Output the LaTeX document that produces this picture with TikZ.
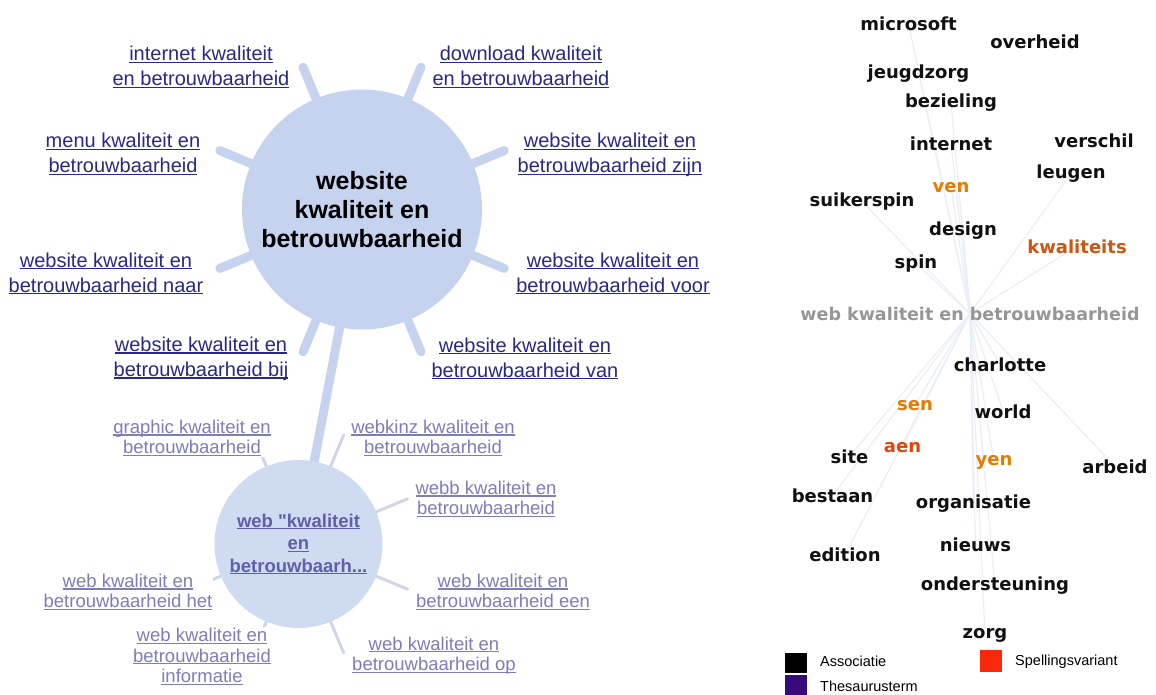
\documentclass[tikz,border=0pt]{standalone}
\usepackage{fontspec}
\setmainfont{Liberation Sans}
\newfontfamily\cloudfont{DejaVu Sans}
\usetikzlibrary{backgrounds}

\definecolor{hubfill}{RGB}{198,211,238}
\definecolor{subfill}{RGB}{207,219,240}
\definecolor{thinspoke}{RGB}{208,214,228}
\definecolor{lkA}{RGB}{40,40,135}
\definecolor{lkB}{RGB}{125,125,185}
\definecolor{lkC}{RGB}{95,95,170}
\definecolor{wordblack}{RGB}{17,17,17}
\definecolor{wordorange}{RGB}{232,122,0}
\definecolor{wordred}{RGB}{222,72,10}
\definecolor{wordrust}{RGB}{205,85,20}
\definecolor{phrasegrey}{RGB}{150,150,150}
\definecolor{cloudline}{RGB}{234,238,246}
\definecolor{legpurple}{RGB}{55,10,120}
\definecolor{legred}{RGB}{250,40,10}

% underlined link text: rule sits just below the baseline
\newcommand\lk[1]{\setbox0\hbox{#1}\rlap{\rule[-2.4pt]{\wd0}{1.3pt}}\box0}
% straight double quote, set as a glyph so the TeX quote mapping leaves it alone
\newcommand\straightdq{\XeTeXglyph\XeTeXcharglyph"22\relax}

\begin{document}
\begin{tikzpicture}[x=1pt,y=-1pt,
  hubnode/.style={circle, fill=hubfill, minimum size=240pt, inner sep=0pt, align=center,
    font={\fontsize{25}{29}\selectfont\bfseries}},
  subnode/.style={circle, fill=subfill, minimum size=168pt, inner sep=0pt, align=center,
    text=lkC, font={\fontsize{18.5}{22.5}\selectfont\bfseries}},
  biglabel/.style={align=center, fill=white, inner sep=1pt, text=lkA,
    font={\fontsize{20}{25}\selectfont}},
  smalllabel/.style={align=center, fill=white, inner sep=1pt, text=lkB,
    font={\fontsize{18.5}{20.5}\selectfont}},
  word/.style={anchor=base, inner sep=0pt, text=wordblack,
    font={\cloudfont\bfseries\fontsize{18}{20}\selectfont}},
  spoke/.style={draw=hubfill, line width=9pt, line cap=round},
  subspoke/.style={draw=thinspoke, line width=3pt, line cap=round},
  linkbar/.style={draw=hubfill, line width=9pt},
  cloudray/.style={draw=cloudline, line width=1.2pt},
  legbox/.style={anchor=north west, minimum width=22pt, minimum height=20pt, inner sep=0pt},
  legtext/.style={anchor=base west, inner sep=0pt, font={\fontsize{14.5}{16}\selectfont}}
]
\useasboundingbox (0,0) rectangle (1156,694);

% ---- query wheel ----
\node[hubnode] (hub) at (362,209.5) {website\\kwaliteit en\\betrouwbaarheid};
\node[subnode] (sub) at (298.5,544) {\lk{web \straightdq kwaliteit}\\\lk{en}\\\lk{betrouwbaarh...}};

\node[biglabel] (a1) at (201,67)    {\lk{internet kwaliteit}\\\lk{en betrouwbaarheid}};
\node[biglabel] (a2) at (521,67)    {\lk{download kwaliteit}\\\lk{en betrouwbaarheid}};
\node[biglabel] (a3) at (123,154)   {\lk{menu kwaliteit en}\\\lk{betrouwbaarheid}};
\node[biglabel] (a4) at (610,155)   {\lk{website kwaliteit en}\\\lk{betrouwbaarheid zijn}};
\node[biglabel] (a5) at (106,273.5) {\lk{website kwaliteit en}\\\lk{betrouwbaarheid naar}};
\node[biglabel] (a6) at (613,273.5) {\lk{website kwaliteit en}\\\lk{betrouwbaarheid voor}};
\node[biglabel] (a7) at (201,358.5) {\lk{website kwaliteit en}\\\lk{betrouwbaarheid bij}};
\node[biglabel] (a8) at (525,358.5) {\lk{website kwaliteit en}\\\lk{betrouwbaarheid van}};

\node[smalllabel] (b1) at (192,438)   {\lk{graphic kwaliteit en}\\\lk{betrouwbaarheid}};
\node[smalllabel] (b2) at (433,438)   {\lk{webkinz kwaliteit en}\\\lk{betrouwbaarheid}};
\node[smalllabel] (b3) at (486,499)   {\lk{webb kwaliteit en}\\\lk{betrouwbaarheid}};
\node[smalllabel] (b4) at (503,592)   {\lk{web kwaliteit en}\\\lk{betrouwbaarheid een}};
\node[smalllabel] (b5) at (128,592)   {\lk{web kwaliteit en}\\\lk{betrouwbaarheid het}};
\node[smalllabel] (b6) at (434,655.5) {\lk{web kwaliteit en}\\\lk{betrouwbaarheid op}};
\node[smalllabel] (b7) at (202,656.5) {\lk{web kwaliteit en}\\\lk{betrouwbaarheid}\\\lk{informatie}};

% ---- word cloud ----
\node[word, text=phrasegrey, font={\cloudfont\bfseries\fontsize{17.5}{20}\selectfont}]
  (ctr) at (970,320) {web kwaliteit en betrouwbaarheid};
\node[word] (w-microsoft) at (908.5,30) {microsoft};
\node[word] (w-overheid) at (1035,48.5) {overheid};
\node[word] (w-jeugdzorg) at (918.5,78) {jeugdzorg};
\node[word] (w-bezieling) at (951,107.5) {bezieling};
\node[word] (w-internet) at (951,150) {internet};
\node[word] (w-verschil) at (1094,147) {verschil};
\node[word] (w-leugen) at (1071,178.5) {leugen};
\node[word, text=wordorange] (w-ven) at (951,192) {ven};
\node[word] (w-suikerspin) at (862,206.5) {suikerspin};
\node[word] (w-design) at (963,235.5) {design};
\node[word, text=wordrust] (w-kwaliteits) at (1077,253) {kwaliteits};
\node[word] (w-spin) at (916,268.5) {spin};
\node[word] (w-charlotte) at (1000,371) {charlotte};
\node[word, text=wordorange] (w-sen) at (915,410) {sen};
\node[word] (w-world) at (1003,418) {world};
\node[word, text=wordred] (w-aen) at (902.5,452) {aen};
\node[word] (w-site) at (849.5,463) {site};
\node[word, text=wordorange] (w-yen) at (994,465) {yen};
\node[word] (w-arbeid) at (1115,473) {arbeid};
\node[word] (w-bestaan) at (832.5,502.5) {bestaan};
\node[word] (w-organisatie) at (973.5,508) {organisatie};
\node[word] (w-nieuws) at (975.5,551.5) {nieuws};
\node[word] (w-edition) at (845,561.5) {edition};
\node[word] (w-ondersteuning) at (995,590.5) {ondersteuning};
\node[word] (w-zorg) at (985,638) {zorg};

% ---- legend ----
\node[legbox, fill=black] (k1) at (785,653) {};
\node[legbox, fill=legpurple, minimum height=22pt] (k2) at (785,675) {};
\node[legbox, fill=legred, minimum height=22pt] (k3) at (980,650) {};
\node[legtext] (t1) at (820,666.5) {Associatie};
\node[legtext] (t2) at (820,691.5) {Thesaurusterm};
\node[legtext] (t3) at (1015,665.5) {Spellingsvariant};

% ---- connectors behind the nodes ----
\begin{scope}[on background layer]
  \fill[white] (0,0) rectangle (1156,694);
  \draw[linkbar] (hub.center) -- (sub.center);
  \foreach \a [count=\i] in {22.5,67.5,112.5,157.5,202.5,247.5,292.5,337.5} {
    \path (hub.center) ++(-\a:154) coordinate (hs\i);
    \draw[spoke] (hub.center) -- (hs\i);
  }
  \foreach \a [count=\i] in {22.5,67.5,112.5,202.5,247.5,292.5,337.5} {
    \path (sub.center) ++(-\a:118) coordinate (ss\i);
    \draw[subspoke] (sub.center) -- (ss\i);
  }
  \foreach \w in {microsoft,jeugdzorg,bezieling,internet,ven,suikerspin,design,kwaliteits,spin,
                  leugen,charlotte,sen,world,aen,site,yen,arbeid,bestaan,organisatie,nieuws,
                  edition,ondersteuning,zorg}
    \draw[cloudray] (ctr.center) -- (w-\w.center);
\end{scope}
\end{tikzpicture}
\end{document}
